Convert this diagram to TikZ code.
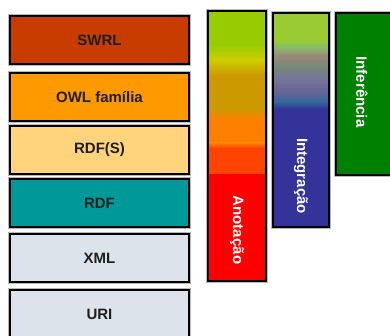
\documentclass[tikz,border=0pt]{standalone}
\usepackage{fontspec}
\setmainfont{Liberation Sans}
\definecolor{cSWRL}{HTML}{C83C00}
\definecolor{cOWL}{HTML}{FF9900}
\definecolor{cRDFS}{HTML}{FFD47C}
\definecolor{cRDF}{HTML}{009999}
\definecolor{cXML}{HTML}{DCE3EA}
\definecolor{cInf}{HTML}{008000}
\definecolor{aA}{HTML}{99CC00}
\definecolor{aB}{HTML}{CCCC00}
\definecolor{aC}{HTML}{CC9900}
\definecolor{aD}{HTML}{FF8000}
\definecolor{aE}{HTML}{FF4400}
\definecolor{aF}{HTML}{FF0000}
\definecolor{iA}{HTML}{99CC33}
\definecolor{iB}{HTML}{88BB66}
\definecolor{iC}{HTML}{998877}
\definecolor{iD}{HTML}{778877}
\definecolor{iE}{HTML}{777799}
\definecolor{iF}{HTML}{666699}
\definecolor{iG}{HTML}{336699}
\definecolor{iH}{HTML}{333399}
\begin{document}
\begin{tikzpicture}[x=1pt,y=-1pt,
  halo/.style={preaction={draw=black!28, line width=4pt}},
  lbox/.style={halo, draw=black, line width=2pt, minimum width=179pt, minimum height=48pt,
    inner sep=0pt, font=\bfseries\fontsize{15}{18}\selectfont, text=black!88},
  colframe/.style={draw=black, line width=2pt, inner sep=0pt},
  vlabel/.style={rotate=-90, text=white, font=\bfseries\fontsize{15}{18}\selectfont, inner sep=0pt}]
\useasboundingbox (0,0) rectangle (390,336);
\clip (0,0) rectangle (390,336);
% left stack
\node[lbox, fill=cSWRL] (swrl) at (99.5,40) {SWRL};
\node[lbox, fill=cOWL] (owl) at (99.5,97) {OWL família};
\node[lbox, fill=cRDFS] (rdfs) at (99.5,150) {RDF(S)};
\node[lbox, fill=cRDF] (rdf) at (99.5,203.5) {RDF};
\node[lbox, fill=cXML] (xml) at (99.5,258) {XML};
\node[lbox, fill=cXML] (uri) at (99.5,314) {URI};
% Anotação column
\draw[black!28, line width=4pt] (208,11) rectangle (266,281);
\fill[aA] (208,11) rectangle (266,45);
\shade[top color=aA, bottom color=aB] (208,45) rectangle (266,60);
\shade[top color=aB, bottom color=aC] (208,60) rectangle (266,75);
\fill[aC] (208,75) rectangle (266,108);
\shade[top color=aC, bottom color=aD] (208,108) rectangle (266,120);
\fill[aD] (208,120) rectangle (266,143);
\shade[top color=aD, bottom color=aE] (208,143) rectangle (266,148);
\fill[aE] (208,148) rectangle (266,174);
\fill[aF] (208,174) rectangle (266,281);
\node[colframe, minimum width=58pt, minimum height=270pt] (anot) at (237,146) {};
\node[vlabel] (anotl) at (237,230) {Anotação};
% Integração column
\draw[black!28, line width=4pt] (273,13) rectangle (329,227);
\fill[iA] (273,13) rectangle (329,40);
\shade[top color=iA, bottom color=iB] (273,40) rectangle (329,47);
\shade[top color=iB, bottom color=iC] (273,47) rectangle (329,56);
\shade[top color=iC, bottom color=iD] (273,56) rectangle (329,67);
\shade[top color=iD, bottom color=iE] (273,67) rectangle (329,77);
\shade[top color=iE, bottom color=iF] (273,77) rectangle (329,92);
\shade[top color=iF, bottom color=iG] (273,92) rectangle (329,102);
\shade[top color=iG, bottom color=iH] (273,102) rectangle (329,109);
\fill[iH] (273,109) rectangle (329,227);
\node[colframe, minimum width=56pt, minimum height=214pt] (integ) at (301,120) {};
\node[vlabel] (integl) at (301,176) {Integração};
% Inferência column
\node[colframe, halo, fill=cInf, minimum width=60pt, minimum height=162pt] (infer) at (366,94) {};
\node[vlabel] (inferl) at (362,92) {Inferência};
\end{tikzpicture}
\end{document}
